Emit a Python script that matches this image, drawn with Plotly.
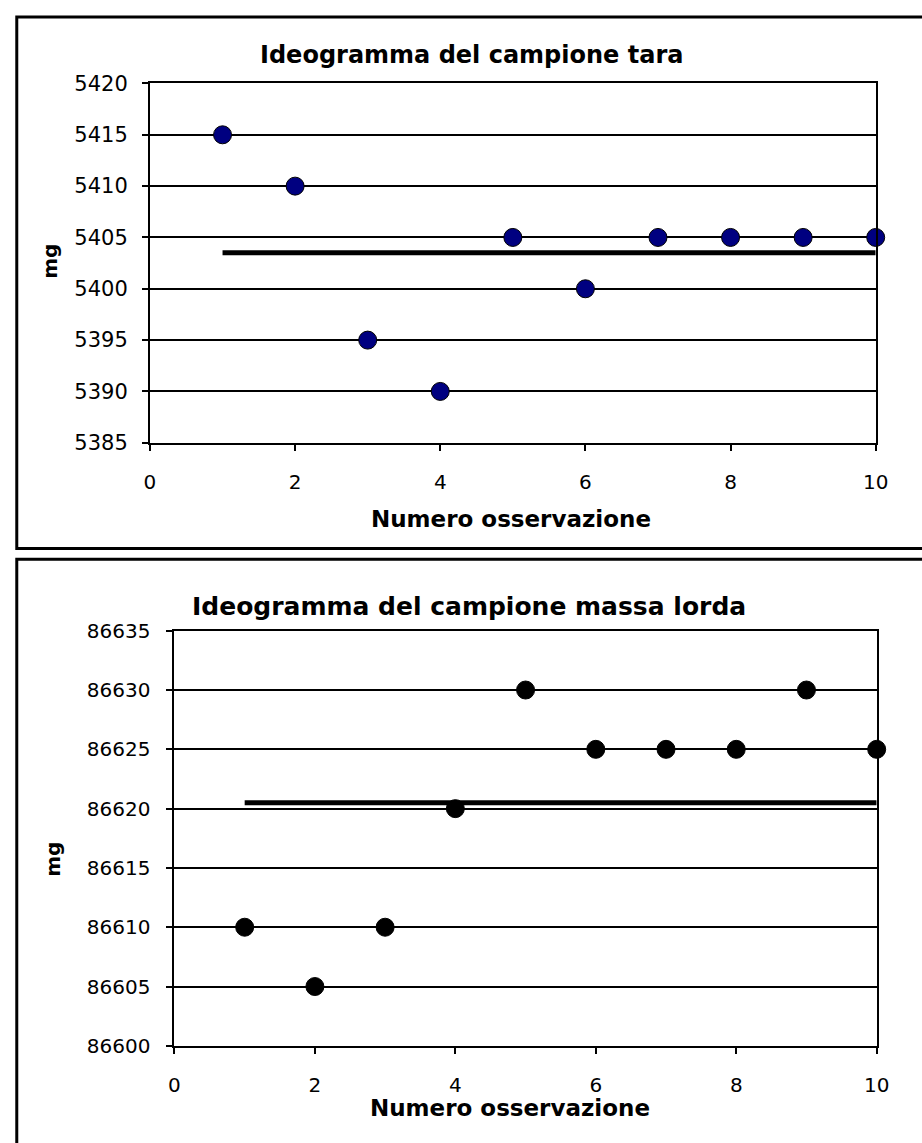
import plotly.graph_objects as go

# ---- data ----
obs = [1, 2, 3, 4, 5, 6, 7, 8, 9, 10]
tara_mg = [5415, 5410, 5395, 5390, 5405, 5400, 5405, 5405, 5405, 5405]
lorda_mg = [86610, 86605, 86610, 86620, 86630, 86625, 86625, 86625, 86630, 86625]

title_top = "Ideogramma del campione tara"
title_bot = "Ideogramma del campione massa lorda"
x_title = "Numero osservazione"
y_title = "mg"

tara_mean = sum(tara_mg) / len(tara_mg)
lorda_mean = sum(lorda_mg) / len(lorda_mg)

# reference picture size; layout positions are given in its pixels
W, H = 922, 1143


def px(x):
    return x / W


def py(y):
    return 1 - y / H


FONT = "DejaVu Sans"

fig = go.Figure()

# top chart
fig.add_trace(go.Scatter(x=[obs[0], obs[-1]], y=[tara_mean, tara_mean], mode="lines",
                         line=dict(color="black", width=5), xaxis="x", yaxis="y",
                         showlegend=False, hoverinfo="skip", cliponaxis=False))
fig.add_trace(go.Scatter(x=obs, y=tara_mg, mode="markers",
                         marker=dict(color="#000080", size=18, line=dict(color="black", width=1)),
                         xaxis="x", yaxis="y", showlegend=False, cliponaxis=False))

# bottom chart
fig.add_trace(go.Scatter(x=[obs[0], obs[-1]], y=[lorda_mean, lorda_mean], mode="lines",
                         line=dict(color="black", width=5), xaxis="x2", yaxis="y2",
                         showlegend=False, hoverinfo="skip", cliponaxis=False))
fig.add_trace(go.Scatter(x=obs, y=lorda_mg, mode="markers",
                         marker=dict(color="black", size=18, line=dict(color="black", width=1)),
                         xaxis="x2", yaxis="y2", showlegend=False, cliponaxis=False))

axis_common = dict(showline=True, linecolor="black", linewidth=2, mirror=True,
                   ticks="outside", ticklen=6, tickwidth=2, tickcolor="black",
                   zeroline=False, color="black", tickformat="d")

fig.update_layout(
    autosize=True,
    margin=dict(l=0, r=0, t=0, b=0),
    paper_bgcolor="white", plot_bgcolor="white",
    font=dict(family=FONT, color="black"),
    xaxis=dict(domain=[px(147), px(888)], range=[0, 10], dtick=2, tick0=0,
               showgrid=False, anchor="y", tickfont=dict(size=20, family=FONT),
               ticklabelstandoff=14, **axis_common),
    yaxis=dict(domain=[py(440), py(73)], range=[5385, 5420], dtick=5, tick0=5385,
               showgrid=True, gridcolor="black", gridwidth=1.5, anchor="x",
               tickfont=dict(size=21, family=FONT), ticklabelstandoff=10, **axis_common),
    xaxis2=dict(domain=[px(172), px(889)], range=[0, 10], dtick=2, tick0=0,
                showgrid=False, anchor="y2", tickfont=dict(size=20, family=FONT),
                ticklabelstandoff=14, **axis_common),
    yaxis2=dict(domain=[py(1056), py(632)], range=[86600, 86635], dtick=5, tick0=86600,
                showgrid=True, gridcolor="black", gridwidth=1.5, anchor="x2",
                tickfont=dict(size=20, family=FONT), ticklabelstandoff=12, **axis_common),
)

# chart boxes
fig.add_shape(type="rect", xref="paper", yref="paper",
              x0=px(11), x1=px(960), y0=py(548), y1=py(5),
              line=dict(color="black", width=3), fillcolor="rgba(0,0,0,0)", layer="below")
fig.add_shape(type="rect", xref="paper", yref="paper",
              x0=px(11), x1=px(960), y0=py(1180), y1=py(559),
              line=dict(color="black", width=3), fillcolor="rgba(0,0,0,0)", layer="below")

bold = dict(family=FONT, size=24, color="black", weight="bold")

ann = [
    dict(text=title_top, x=px(475), y=py(44), font=dict(bold, size=24)),
    dict(text=x_title, x=px(516), y=py(518), font=dict(bold, size=23)),
    dict(text=y_title, x=px(45), y=py(255), font=dict(bold, size=20), textangle=-90),
    dict(text=title_bot, x=px(473), y=py(607), font=dict(bold, size=25)),
    dict(text=x_title, x=px(515), y=py(1120), font=dict(bold, size=23)),
    dict(text=y_title, x=px(48), y=py(866), font=dict(bold, size=20), textangle=-90),
]
for a in ann:
    fig.add_annotation(xref="paper", yref="paper", showarrow=False,
                       xanchor="center", yanchor="middle", **a)

fig.write_html(
    "out.html",
    config={"displayModeBar": False, "responsive": True},
    default_width="100vw",
    default_height="100vh",
    post_script=(
        "document.documentElement.style.margin='0';"
        "document.body.style.margin='0';"
        "document.body.style.overflow='hidden';"
        "window.dispatchEvent(new Event('resize'));"
    ),
)
